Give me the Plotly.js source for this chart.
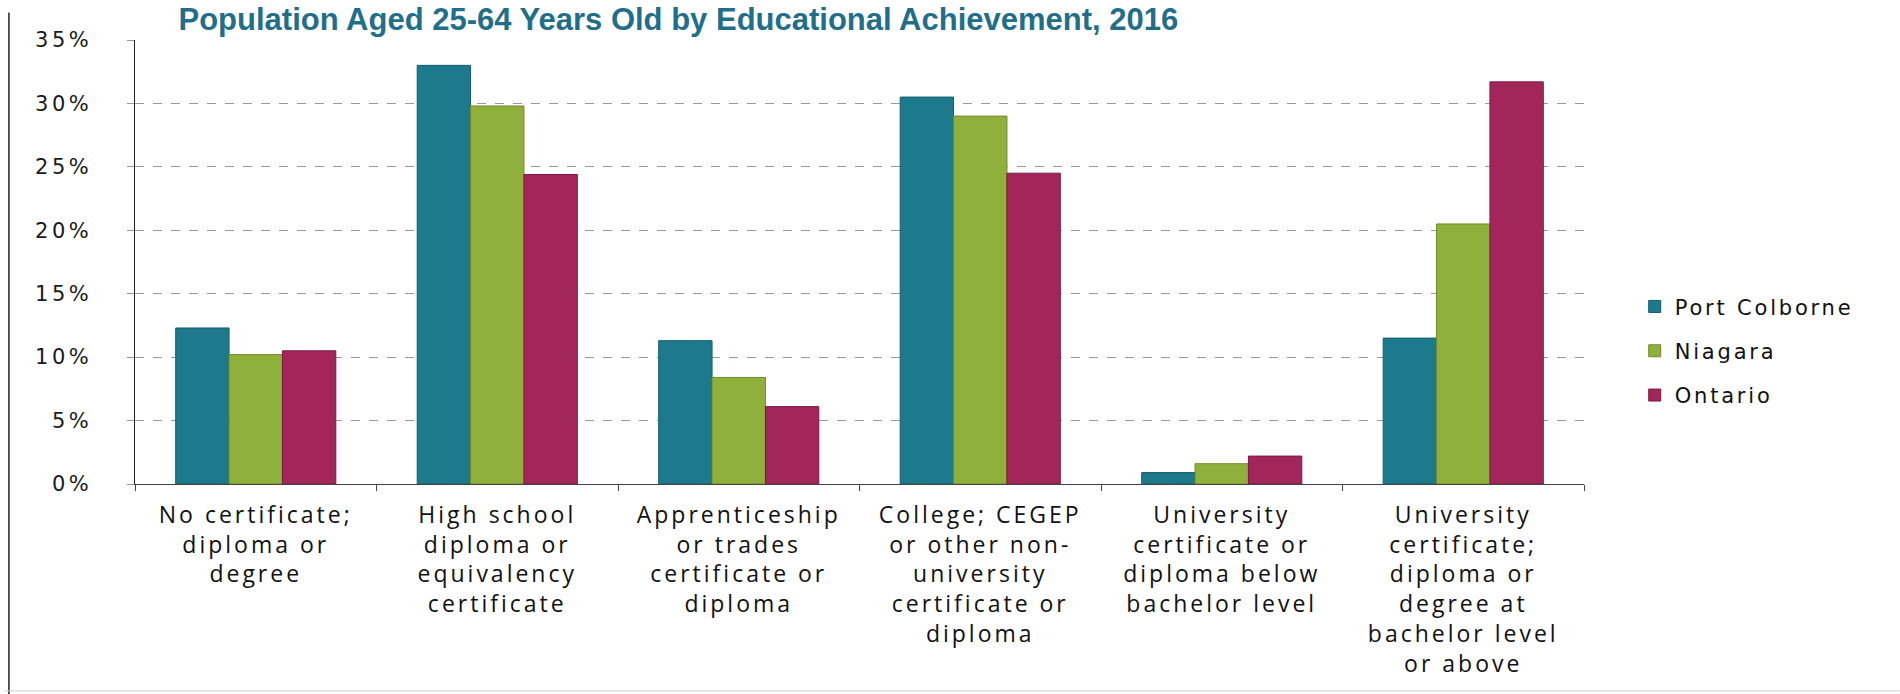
<!DOCTYPE html>
<html>
<head>
<meta charset="utf-8">
<script src="https://cdn.plot.ly/plotly-3.0.1.min.js"></script>
<style>
  html, body { margin: 0; padding: 0; background: #ffffff; }
  #chart { width: 1900px; height: 694px; }
  .xtick text, .xtick tspan { letter-spacing: 3px; }
  .ytick text { letter-spacing: 3.5px; }
  .legendtext { letter-spacing: 2.8px; }
</style>
</head>
<body>
<div id="chart"></div>
<script>
const categories = [
  "No certificate;<br>diploma or<br>degree",
  "High school<br>diploma or<br>equivalency<br>certificate",
  "Apprenticeship<br>or trades<br>certificate or<br>diploma",
  "College; CEGEP<br>or other non-<br>university<br>certificate or<br>diploma",
  "University<br>certificate or<br>diploma below<br>bachelor level",
  "University<br>certificate;<br>diploma or<br>degree at<br>bachelor level<br>or above"
];
const seriesNames = ["Port Colborne", "Niagara", "Ontario"];
const portColborne = [12.3, 33.0, 11.3, 30.5, 0.9, 11.5];
const niagara = [10.2, 29.8, 8.4, 29.0, 1.6, 20.5];
const ontario = [10.5, 24.4, 6.1, 24.5, 2.2, 31.7];
const yTickVals = [0, 5, 10, 15, 20, 25, 30, 35];
const yTickText = ["0%", "5%", "10%", "15%", "20%", "25%", "30%", "35%"];
const titleText = "Population Aged 25-64 Years Old by Educational Achievement, 2016";

const colors = ["#1d7a8c", "#8fb03b", "#a3265a"];
const lineColors = ["#145e6c", "#6f8c2a", "#7d1a44"];
const values = [portColborne, niagara, ontario];

const traces = values.map((v, i) => ({
  type: "bar",
  name: seriesNames[i],
  x: categories,
  y: v,
  legendgroup: "g" + i,
  marker: { color: colors[i], line: { color: lineColors[i], width: 1 } },
  hoverinfo: "x+y+name"
}));

const layout = {
  width: 1900,
  height: 694,
  paper_bgcolor: "#ffffff",
  plot_bgcolor: "#ffffff",
  margin: { l: 135, r: 316, t: 40, b: 210, pad: 0 },
  barmode: "group",
  bargap: 0.337,
  bargroupgap: 0,
  title: {
    text: "<b>" + titleText + "</b>",
    font: { family: "Liberation Sans, Arial, sans-serif", size: 31, color: "#1f6f8a" },
    xref: "paper", x: 0.03, xanchor: "left",
    yref: "container", y: 0.972, yanchor: "middle"
  },
  xaxis: {
    type: "category",
    showline: true, linecolor: "#444", linewidth: 1,
    ticks: "outside", tickson: "boundaries", ticklen: 6, tickcolor: "#444",
    tickangle: 0,
    ticklabelstandoff: 10,
    tickfont: { family: "Open Sans, sans-serif", size: 23, color: "#111" },
    showgrid: false,
    automargin: false
  },
  yaxis: {
    range: [0, 35],
    tickvals: yTickVals,
    ticktext: yTickText,
    showline: true, linecolor: "#222", linewidth: 1.5,
    ticks: "outside", ticklen: 7, tickcolor: "#999",
    ticklabelstandoff: 30,
    tickfont: { family: "DejaVu Sans, sans-serif", size: 21, color: "#1a1a1a" },
    showgrid: true, gridcolor: "#9a9a9a", gridwidth: 1, griddash: "dash",
    zeroline: false,
    automargin: false
  },
  legend: {
    x: 1.035, xanchor: "left",
    y: 0.30, yanchor: "middle",
    traceorder: "grouped",
    tracegroupgap: 14,
    font: { family: "DejaVu Sans, sans-serif", size: 21, color: "#111" },
    bgcolor: "rgba(0,0,0,0)"
  },
  shapes: [
    { type: "line", xref: "paper", yref: "paper", x0: -0.087, x1: -0.087, y0: 1.062, y1: -0.48,
      line: { color: "#222", width: 1.5 } },
    { type: "line", xref: "paper", yref: "paper", x0: -0.09, x1: 1.218, y0: -0.466, y1: -0.466,
      line: { color: "#cfcfcf", width: 1 } }
  ],
  showlegend: true
};

Plotly.newPlot("chart", traces, layout, { displayModeBar: false, staticPlot: true });
</script>
</body>
</html>
